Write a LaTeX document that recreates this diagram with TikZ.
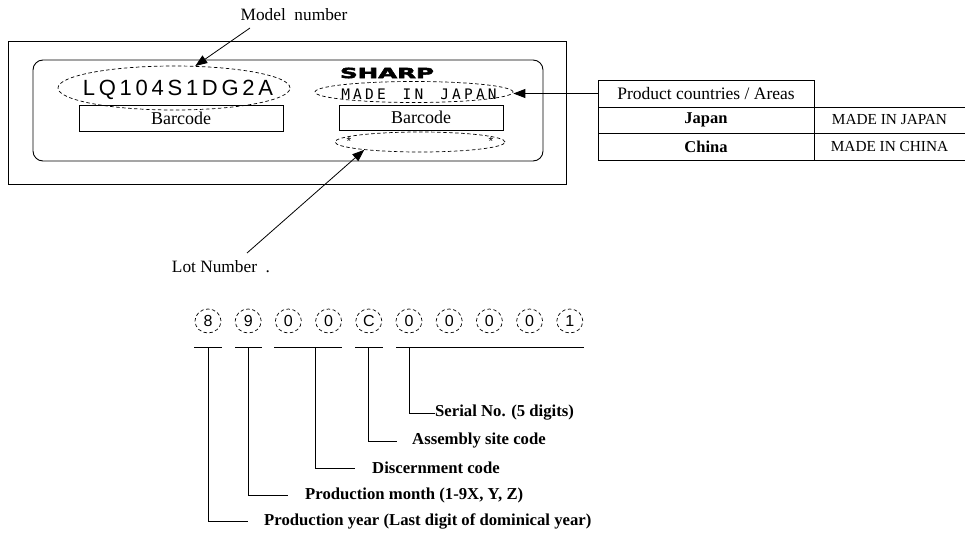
\documentclass[tikz,border=0pt]{standalone}
\usepackage{fontspec}
\setmainfont{Liberation Serif}
\setsansfont{Liberation Sans}
\newfontfamily\lqfont{Liberation Sans}[LetterSpace=17]
\newfontfamily\madefont{DejaVu Sans Mono}[LetterSpace=22]
\newfontfamily\logofont{DejaVu Sans}[UprightFont=* Bold, FakeBold=3]
\usetikzlibrary{arrows.meta,calc,shapes.geometric}
\begin{document}
\begin{tikzpicture}[x=1pt,y=-1pt,
  dashell/.style={draw, ellipse, dash pattern=on 3.5pt off 2.5pt, line width=0.7pt, inner sep=0pt},
  arr/.style={-{Triangle[length=12pt,width=9pt]}, line width=0.8pt},
  boxnode/.style={draw, line width=0.8pt, inner sep=0pt, font=\fontsize{18}{20}\selectfont},
  plaintext/.style={inner sep=0pt, font=\fontsize{17.3}{19}\selectfont},
  digit/.style={dashell, minimum width=26pt, minimum height=24pt, font=\sffamily\fontsize{16}{18}\selectfont},
  lotlabel/.style={anchor=west, inner sep=0pt, font=\bfseries\fontsize{16.7}{19}\selectfont},
  tabtext/.style={inner sep=0pt},
  rule/.style={line width=0.8pt},
  astx/.style={inner sep=0pt, text=black, font=\sffamily\fontsize{12}{13}\selectfont}]
\useasboundingbox (0,0) rectangle (965,535);

% --- label outline ---
\draw[line width=0.9pt] (8,41) rectangle (566,184);
\draw[line width=0.9pt, rounded corners=10pt] (33,60) rectangle (543,161);

% --- model number ---
\node[plaintext] (model) at (294,15) {Model\ \ number};
\coordinate (modelstart) at (250,28);
\node[dashell, minimum width=232pt, minimum height=44pt] (lqell) at (174,88) {};
\node[inner sep=0pt, font=\lqfont\fontsize{22}{24}\selectfont] (lq) at (178,90) {LQ104S1DG2A};
\draw[arr] (modelstart) -- (lqell.46);

\node[boxnode, minimum width=204pt, minimum height=26pt] (bc1) at (181,118) {Barcode};

% --- right part ---
\node[inner sep=0pt, xscale=1.75, transform shape, font=\logofont\fontsize{14}{15}\selectfont] (logo) at (387,73) {SHARP};
\node[dashell, minimum width=198pt, minimum height=21pt] (madeell) at (414,92) {};
\node[inner sep=0pt, font=\madefont\fontsize{14.5}{16}\selectfont] (made) at (419,94) {MADE\hspace{5pt} IN\hspace{5pt} JAPAN};
\node[boxnode, minimum width=164pt, minimum height=25pt] (bc2) at (421,117.5) {Barcode};
\node[dashell, minimum width=170pt, minimum height=20pt] (lotell) at (420,142) {};
\node[astx] (ast1) at (349,141) {*};
\node[astx] (ast2) at (491,141) {*};

% --- lot number arrow ---
\node[plaintext] (lotnum) at (221,267) {Lot Number\ \ .};
\coordinate (lotstart) at (247,253);
\draw[arr] (lotstart) -- (lotell.188);

% --- table ---
\coordinate (tTL) at (598,80);
\coordinate (tMB) at (814,160);
\draw[rule] (tTL) rectangle (tMB);
\draw[rule] (598,107) -- (965,107);
\draw[rule] (598,133) -- (965,133);
\draw[rule] (814,160) -- (965,160);
\node[tabtext, font=\fontsize{17.5}{19}\selectfont] (hdr) at (706,93.5) {Product countries / Areas};
\node[tabtext, font=\bfseries\fontsize{16.5}{18}\selectfont] (jp) at (706,120) {Japan};
\node[tabtext, font=\bfseries\fontsize{16.5}{18}\selectfont] (cn) at (706,146.5) {China};
\node[tabtext, font=\fontsize{15.3}{17}\selectfont] (mjp) at (889.5,120) {MADE IN JAPAN};
\node[tabtext, font=\fontsize{15.3}{17}\selectfont] (mcn) at (889.5,146.5) {MADE IN CHINA};
\draw[arr] (598,93.5) -- (madeell.east |- 0,93.5);

% --- lot number digits ---
\foreach \c [count=\i] in {8,9,0,0,C,0,0,0,0,1}
  \node[digit] (d\i) at ({208+40.2*(\i-1)},321) {\c};

\draw[rule] (194,347) -- (222,347);
\draw[rule] (235,347) -- (262,347);
\draw[rule] (274,347) -- (342,347);
\draw[rule] (355,347) -- (383,347);
\draw[rule] (396,347) -- (584,347);

\node[lotlabel] (lser) at (435,413) {Serial No. (5 digits)};
\node[lotlabel] (lasm) at (412,441) {Assembly site code};
\node[lotlabel] (ldis) at (372,468) {Discernment code};
\node[lotlabel] (lmon) at (305,495) {Production month (1-9X, Y, Z)};
\node[lotlabel] (lyr) at (264,521) {Production year (Last digit of dominical year)};

\draw[rule] (409,347) |- (lser.west);
\draw[rule] (368,347) |- ([xshift=-15pt]lasm.west);
\draw[rule] (315,347) |- ([xshift=-17pt]ldis.west);
\draw[rule] (248,347) |- ([xshift=-17pt]lmon.west);
\draw[rule] (208,347) |- ([xshift=-16pt]lyr.west);
\end{tikzpicture}
\end{document}
